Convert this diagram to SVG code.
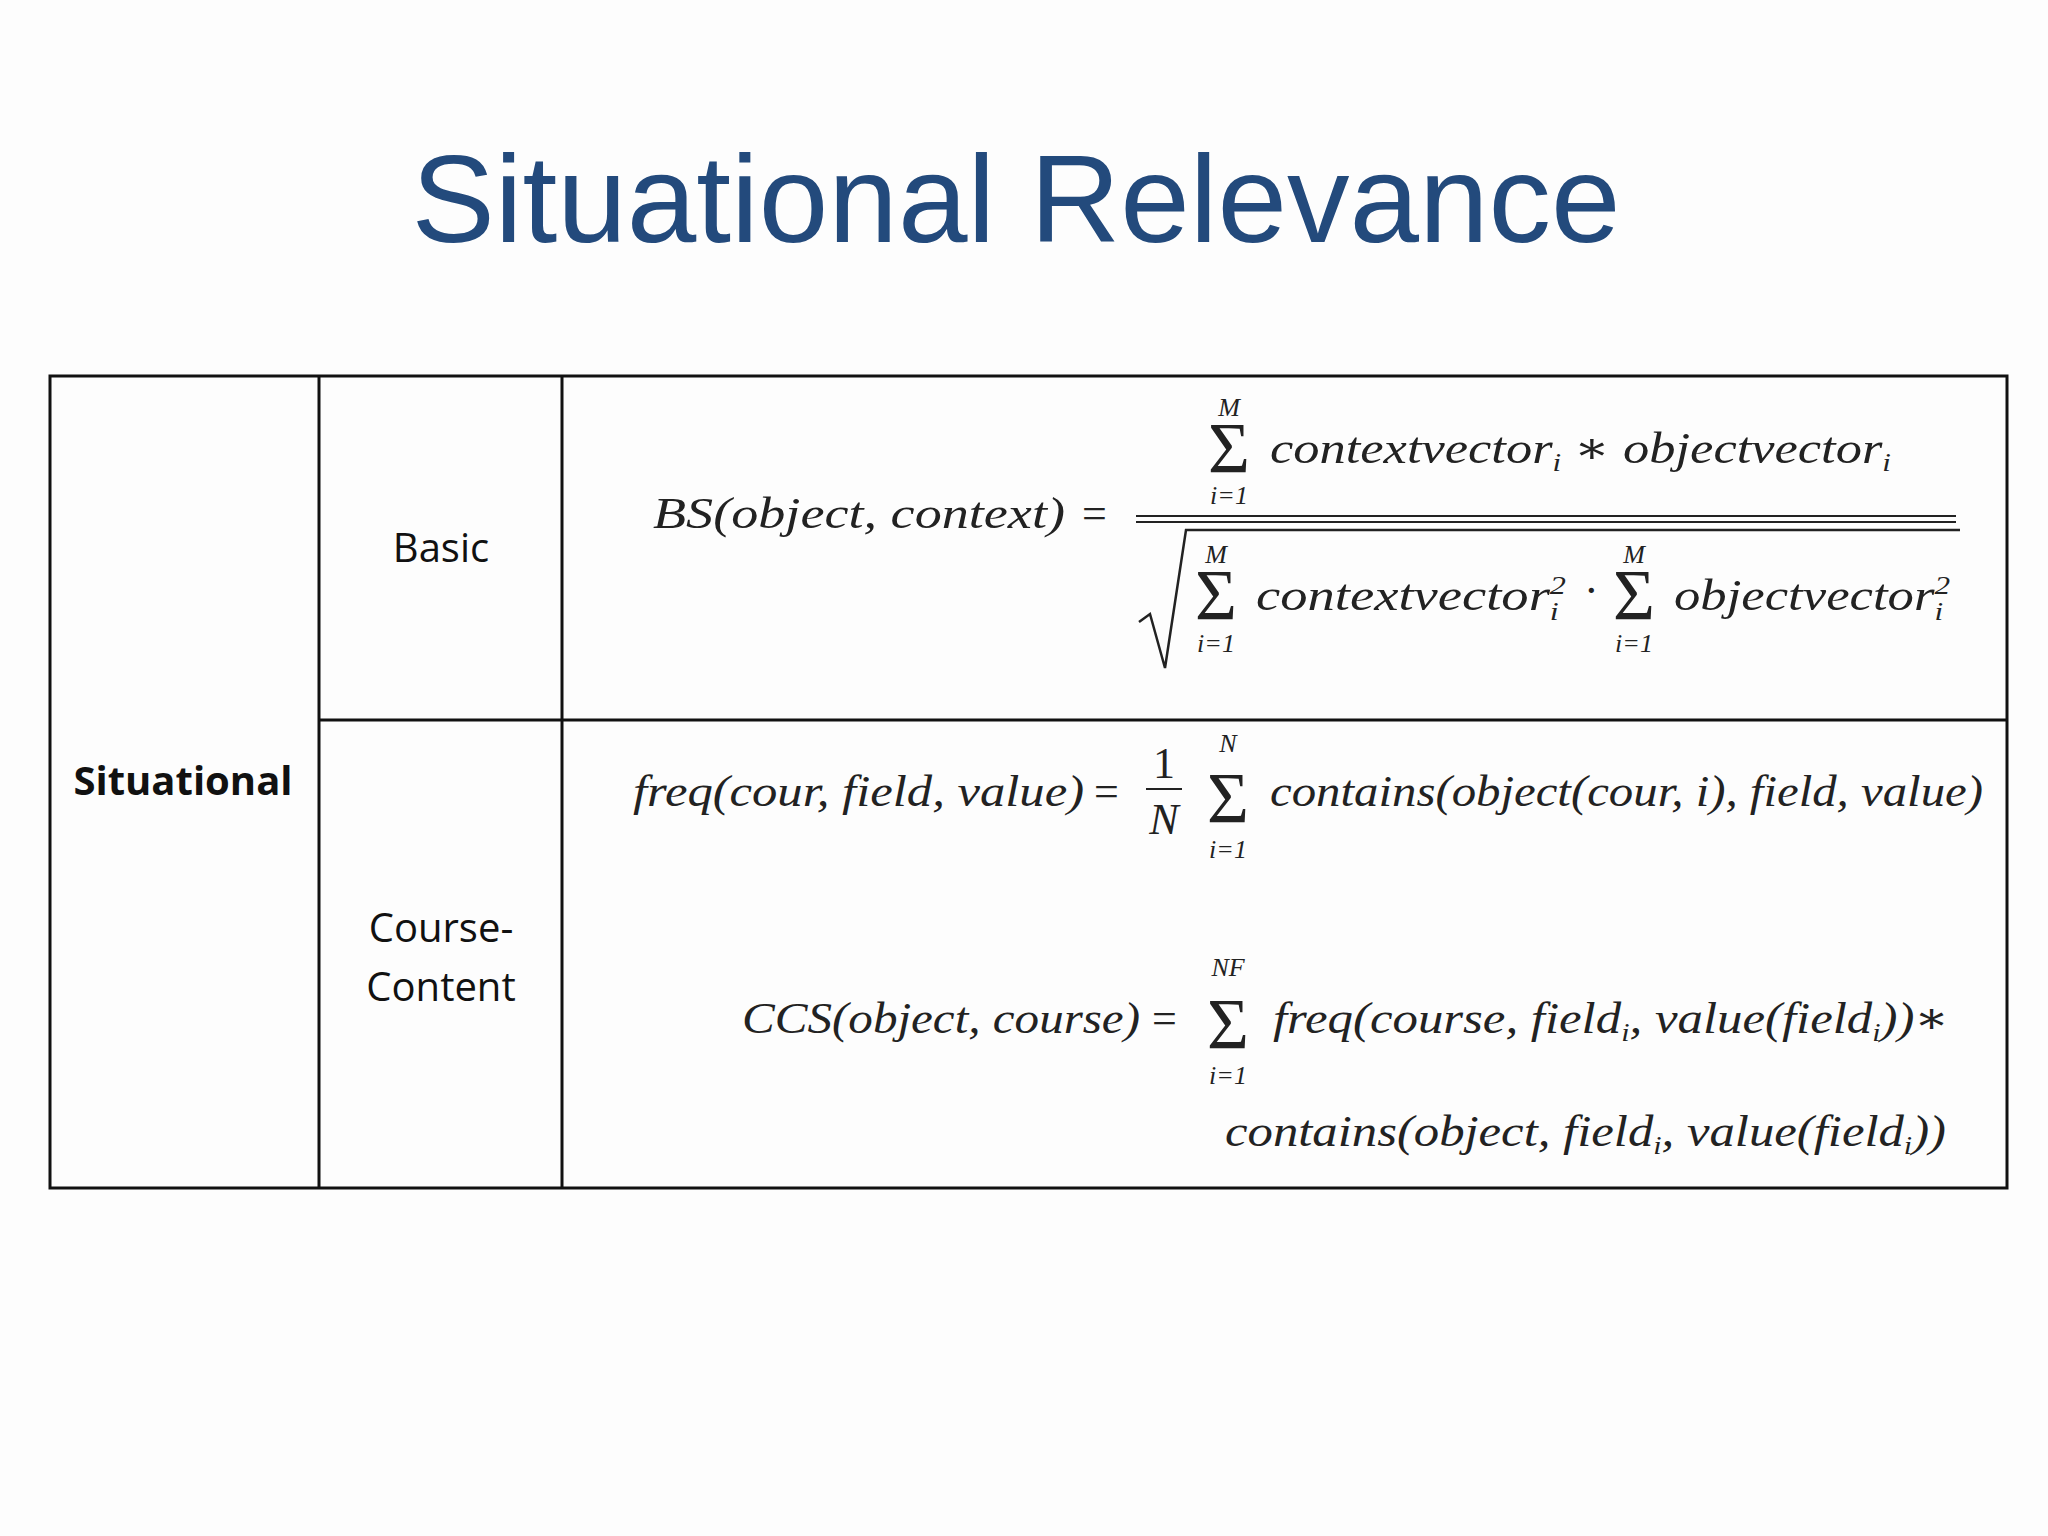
<svg xmlns="http://www.w3.org/2000/svg" width="2048" height="1536" viewBox="0 0 2048 1536">
<style>
.m{font-family:"Liberation Serif","DejaVu Serif",serif;font-style:italic;font-size:44px;fill:#222}
.u{font-family:"Liberation Serif","DejaVu Serif",serif;font-size:44px;fill:#222}
.s{font-size:26px}
.big{font-family:"Liberation Serif",serif;font-size:72px;fill:#222}
.lab{font-family:"Open Sans","Noto Sans",sans-serif;font-size:40px;fill:#111}
.ln{stroke:#111;stroke-width:3;fill:none}
</style>
<rect width="2048" height="1536" fill="#fdfdfd"/>
<text x="1016" y="242" text-anchor="middle" font-family="Liberation Sans,Arial,sans-serif" font-size="125" fill="#234a7c">Situational Relevance</text>
<g id="table">
<rect x="50" y="376" width="1957" height="812" class="ln" fill="#fff"/>
<line x1="319" y1="376" x2="319" y2="1188" class="ln"/>
<line x1="562" y1="376" x2="562" y2="1188" class="ln"/>
<line x1="319" y1="720" x2="2007" y2="720" class="ln"/>
</g>
<g id="situational"><text x="183" y="795" text-anchor="middle" class="lab" font-weight="bold">Situational</text></g>
<g id="basic"><text x="441" y="562" text-anchor="middle" class="lab">Basic</text></g>
<g id="course"><text x="441" y="942" text-anchor="middle" class="lab">Course-</text><text x="441" y="1001" text-anchor="middle" class="lab">Content</text></g>
<g id="bs">
<text x="653" y="528" class="m" textLength="412" lengthAdjust="spacingAndGlyphs">BS(object, context)</text>
<text x="1082" y="528" class="u">=</text>
<line x1="1136" y1="516" x2="1956" y2="516" stroke="#222" stroke-width="2"/>
<line x1="1136" y1="522" x2="1956" y2="522" stroke="#222" stroke-width="2"/>
<text x="1229" y="416" class="m s" text-anchor="middle">M</text>
<text x="1229" y="472" class="big" text-anchor="middle">Σ</text>
<text x="1229" y="504" class="m s" text-anchor="middle">i=1</text>
<text x="1270" y="463" class="m" textLength="621" lengthAdjust="spacingAndGlyphs">contextvector<tspan class="s" dy="8">i</tspan><tspan dy="-8"> ∗ objectvector</tspan><tspan class="s" dy="8">i</tspan></text>
<path d="M1139 622 L1150 614 L1165 668 L1186 530 L1960 530" stroke="#222" stroke-width="2.5" fill="none"/>
<text x="1216" y="563" class="m s" text-anchor="middle">M</text>
<text x="1216" y="619" class="big" text-anchor="middle">Σ</text>
<text x="1216" y="652" class="m s" text-anchor="middle">i=1</text>
<text x="1256" y="610" class="m" textLength="310" lengthAdjust="spacingAndGlyphs">contextvector<tspan class="s" dy="-16">2</tspan><tspan class="s" dx="-13" dy="26">i</tspan></text>
<text x="1584" y="605" class="u">·</text>
<text x="1634" y="563" class="m s" text-anchor="middle">M</text>
<text x="1634" y="619" class="big" text-anchor="middle">Σ</text>
<text x="1634" y="652" class="m s" text-anchor="middle">i=1</text>
<text x="1674" y="610" class="m" textLength="276" lengthAdjust="spacingAndGlyphs">objectvector<tspan class="s" dy="-16">2</tspan><tspan class="s" dx="-13" dy="26">i</tspan></text>
</g>
<g id="freq">
<text x="633" y="806" class="m" textLength="451" lengthAdjust="spacingAndGlyphs">freq(cour, field, value)</text>
<text x="1094" y="806" class="u">=</text>
<text x="1164" y="778" class="u" text-anchor="middle">1</text>
<line x1="1146" y1="789" x2="1182" y2="789" stroke="#222" stroke-width="2"/>
<text x="1164" y="834" class="m" text-anchor="middle">N</text>
<text x="1228" y="752" class="m s" text-anchor="middle">N</text>
<text x="1228" y="822" class="big" text-anchor="middle">Σ</text>
<text x="1228" y="858" class="m s" text-anchor="middle">i=1</text>
<text x="1270" y="806" class="m" textLength="713" lengthAdjust="spacingAndGlyphs">contains(object(cour, i), field, value)</text>
</g>
<g id="ccs">
<text x="742" y="1033" class="m" textLength="398" lengthAdjust="spacingAndGlyphs">CCS(object, course)</text>
<text x="1152" y="1033" class="u">=</text>
<text x="1228" y="976" class="m s" text-anchor="middle">NF</text>
<text x="1228" y="1048" class="big" text-anchor="middle">Σ</text>
<text x="1228" y="1084" class="m s" text-anchor="middle">i=1</text>
<text x="1273" y="1033" class="m" textLength="676" lengthAdjust="spacingAndGlyphs">freq(course, field<tspan class="s" dy="8">i</tspan><tspan dy="-8">, value(field</tspan><tspan class="s" dy="8">i</tspan><tspan dy="-8">))∗</tspan></text>
<text x="1225" y="1146" class="m" textLength="721" lengthAdjust="spacingAndGlyphs">contains(object, field<tspan class="s" dy="8">i</tspan><tspan dy="-8">, value(field</tspan><tspan class="s" dy="8">i</tspan><tspan dy="-8">))</tspan></text>
</g>
</svg>
